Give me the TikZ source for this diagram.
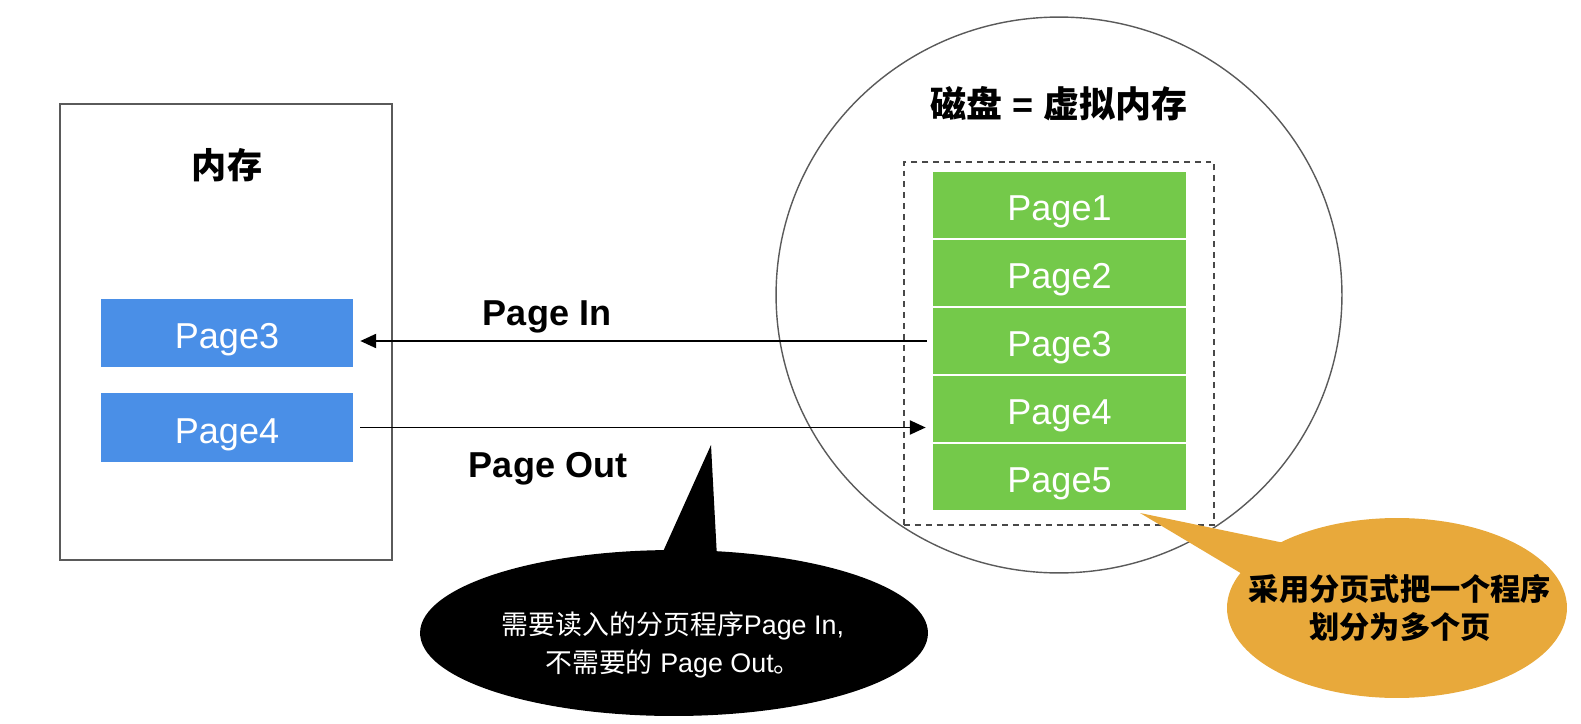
\documentclass[tikz,border=0pt]{standalone}
\usepackage{fontspec}
\setmainfont{Liberation Sans}
\newfontfamily\cjk{Noto Sans CJK SC}
\usetikzlibrary{arrows.meta,shapes.geometric,shapes.callouts}

\definecolor{pageblue}{HTML}{4A8FE7}
\definecolor{pagegreen}{HTML}{74C94A}
\definecolor{noteorange}{HTML}{E8A93B}
\definecolor{edgegray}{HTML}{5A5A5A}

\tikzset{
  ram page/.style={fill=pageblue,text=white,minimum width=5.04cm,minimum height=1.37cm,
    inner sep=0pt,text height=18pt,text depth=0pt,font=\fontsize{20.5}{24}\selectfont},
  disk page/.style={fill=pagegreen,text=white,minimum width=5.06cm,minimum height=1.32cm,
    inner sep=0pt,text height=18pt,text depth=0pt,font=\fontsize{20.5}{24}\selectfont},
  flow/.style={line width=1.1pt,-{Triangle[length=9pt,width=8pt]}},
  flow label/.style={font=\bfseries\fontsize{20.5}{24}\selectfont},
}

\begin{document}
\begin{tikzpicture}[x=0.02cm,y=-0.02cm]
  \useasboundingbox (0,0) rectangle (1581,723);
  % memory
  \node[draw=edgegray,line width=1.1pt,minimum width=6.64cm,minimum height=9.12cm] (ram) at (226,332) {};
  \node[font=\cjk\bfseries\fontsize{20}{24}\selectfont] (ramtitle) at (227,165) {内存};
  \node[ram page] (r3) at (227,333) {Page3};
  \node[ram page] (r4) at (227,427.5) {Page4};
  % disk
  \node[ellipse,draw=edgegray,line width=0.8pt,minimum width=11.32cm,minimum height=11.12cm] (disk) at (1059,295) {};
  \node[font=\bfseries\fontsize{20.5}{24}\selectfont] (disktitle) at (1059,104) {{\cjk 磁盘} = {\cjk 虚拟内存}};
  \node[draw=edgegray!80!black,line width=0.85pt,dash pattern=on 3.4pt off 2.8pt,
    minimum width=6.2cm,minimum height=7.26cm] (swap) at (1059,343.5) {};
  \foreach \i in {1,...,5}
    \node[disk page] (d\i) at (1059.5,{205+68*(\i-1)}) {Page\i};
  % page in / page out
  \draw[flow,shorten <=0.12cm,shorten >=0.14cm] (d3.west) -- (r3.east |- d3.west);
  \draw[flow,shorten <=0.14cm,shorten >=0.14cm] (r4.east) -- (d4.west |- r4.east);
  \node[flow label] (inlabel) at (547,317) {Page In};
  \node[flow label] (outlabel) at (548,469) {Page Out};
  % notes
  \coordinate (tipblack) at (711,445);
  \node[ellipse callout,fill=black,minimum width=10.16cm,minimum height=3.32cm,inner sep=0pt,
    callout absolute pointer={(tipblack)},callout pointer arc=12] (note1) at (674,633) {};
  \node[text=white,align=center,font=\fontsize{15.3}{22}\selectfont] (note1text) at (673,645)
    {{\cjk 需要读入的分页程序}Page In,\\{\cjk 不需要的} Page Out{\cjk 。}};
  \coordinate (tiporange) at (1140,513);
  \node[ellipse callout,fill=noteorange,minimum width=6.8cm,minimum height=3.6cm,inner sep=0pt,
    callout absolute pointer={(tiporange)},callout pointer arc=24] (note2) at (1397,608) {};
  \node[align=center,font=\cjk\bfseries\fontsize{17.2}{22}\selectfont] (note2text) at (1400,608)
    {采用分页式把一个程序\\划分为多个页};
\end{tikzpicture}
\end{document}
